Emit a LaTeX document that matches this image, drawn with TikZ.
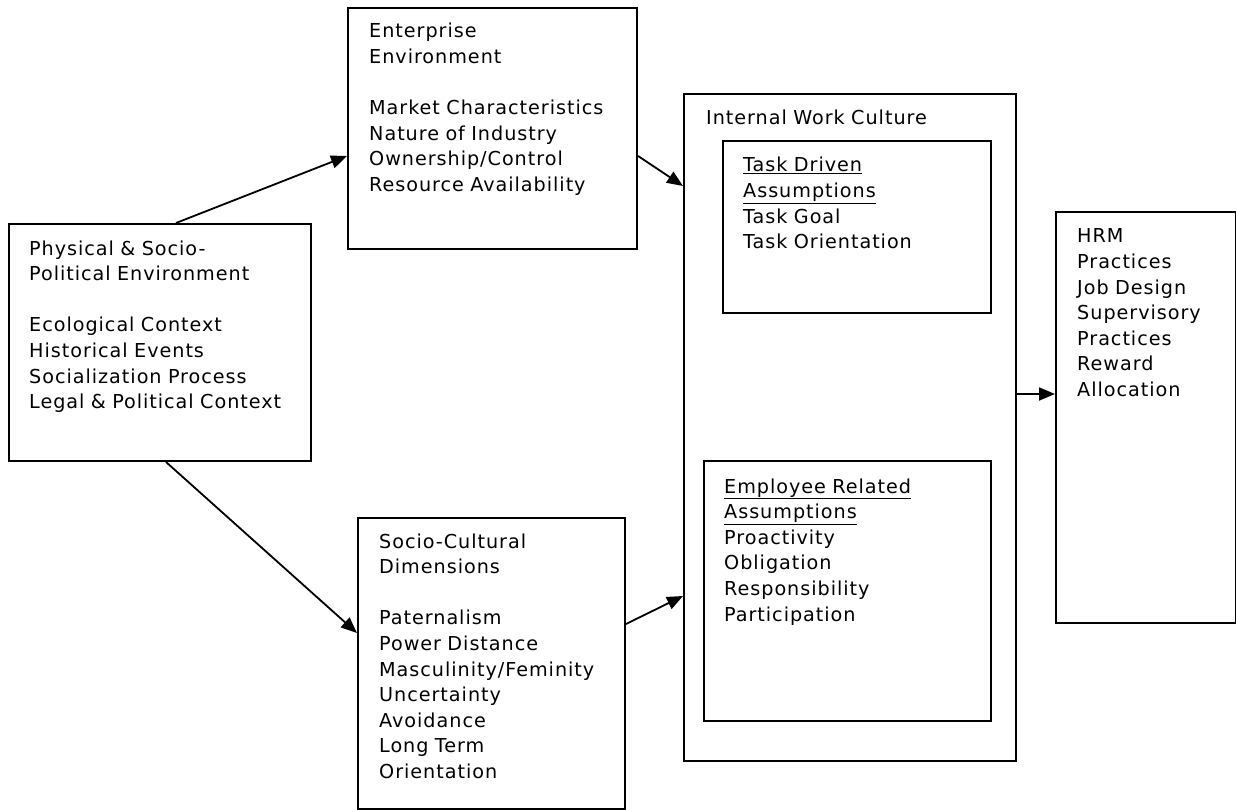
\documentclass[tikz,border=0pt]{standalone}
\usepackage{fontspec}
\setmainfont{DejaVu Sans}[LetterSpace=5]
\usetikzlibrary{arrows.meta}

\begin{document}
\begin{tikzpicture}[x=1pt,y=-1pt]
\tikzset{box/.style={draw,line width=2pt,inner sep=0pt,anchor=north west}}
\tikzset{txt/.style={anchor=base west,inner sep=0pt,align=left,text width=#1}}
\tikzset{link/.style={line width=1.8pt,-{Triangle[length=16pt,width=13pt]}}}

\fontsize{19.2}{25.6}\selectfont

\useasboundingbox (0,0) rectangle (1236,810);

\node[box,minimum width=302pt,minimum height=237pt] (phys) at (8,223) {};
\node[box,minimum width=289pt,minimum height=241pt] (ent) at (347,7) {};
\node[box,minimum width=332pt,minimum height=667pt] (iwc) at (683,93) {};
\node[box,minimum width=268pt,minimum height=172pt] (task) at (722,140) {};
\node[box,minimum width=287pt,minimum height=260pt] (emp) at (703,460) {};
\node[box,minimum width=267pt,minimum height=291pt] (socio) at (357,517) {};
\node[box,minimum width=180pt,minimum height=411pt] (hrm) at (1055,211) {};

\node[txt=280pt] (physT) at (29,255) {Physical \& Socio-\\Political Environment\\[25.6pt]Ecological Context\\Historical Events\\Socialization Process\\Legal \& Political Context};
\node[txt=265pt] (entT) at (369,38) {Enterprise\\Environment\\[25.6pt]Market Characteristics\\Nature of Industry\\Ownership/Control\\Resource Availability};
\node[txt=300pt] (iwcT) at (706,125) {Internal Work Culture};
\node[txt=240pt] (taskT) at (743,172) {\underline{Task Driven}\\\underline{Assumptions}\\Task Goal\\Task Orientation};
\node[txt=260pt] (empT) at (724,493) {\underline{Employee Related}\\\underline{Assumptions}\\Proactivity\\Obligation\\Responsibility\\Participation};
\node[txt=240pt] (socioT) at (379,548) {Socio-Cultural\\Dimensions\\[25.6pt]Paternalism\\Power Distance\\Masculinity/Feminity\\Uncertainty\\Avoidance\\Long Term\\Orientation};
\node[txt=150pt] (hrmT) at (1077,243) {HRM\\Practices\\Job Design\\Supervisory\\Practices\\Reward\\Allocation};

\draw[link] ([xshift=16pt]phys.north) -- ([yshift=-27.5pt]ent.west);
\draw[link] ([xshift=6pt]phys.south) -- ([yshift=30.5pt]socio.west);
\draw[link] ([yshift=-27.5pt]ent.east) -- ([yshift=241.5pt]iwc.west);
\draw[link] ([yshift=39.5pt]socio.east) -- ([yshift=-168.5pt]iwc.west);
\coordinate (out) at ([yshift=33.5pt]iwc.east);
\draw[link] (out) -- (out -| hrm.west);

\end{tikzpicture}
\end{document}
